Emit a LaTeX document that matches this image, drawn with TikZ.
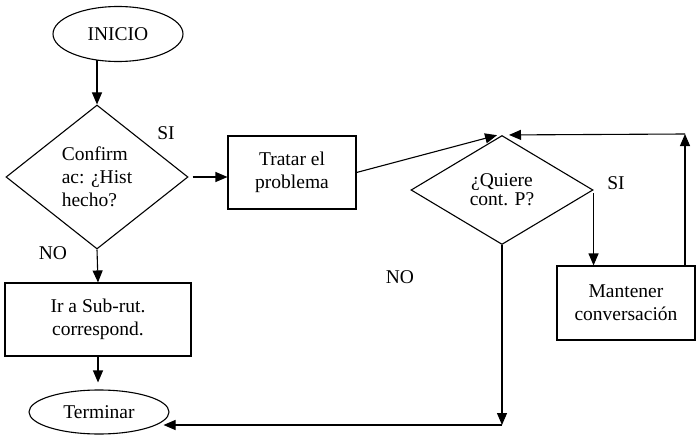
\documentclass[tikz,border=0pt]{standalone}
\usepackage{fontspec}
\setmainfont{Liberation Serif}
\usetikzlibrary{shapes.geometric,arrows.meta}
\begin{document}
\begin{tikzpicture}[x=1pt,y=-1pt,
  font=\fontsize{19.5}{23}\selectfont,
  line width=1.1pt,
  arr/.style={-{Triangle[length=12pt,width=10pt]}},
  term/.style={draw,ellipse,inner sep=0pt},
  dec/.style={draw,diamond,inner sep=0pt},
  proc/.style={draw,rectangle,inner sep=0pt,align=center},
  lbl/.style={inner sep=0pt}]
\useasboundingbox (0,0) rectangle (697,436);
\node[term,minimum width=130pt,minimum height=55pt] (inicio) at (118,34) {INICIO};
\node[dec,minimum width=182pt,minimum height=144pt,align=left] (d1) at (97,177) {Confirm\\ac: ¿Hist\\hecho?};
\node[proc,minimum width=128pt,minimum height=73pt] (tratar) at (292,172.5) {Tratar el\\problema};
\node[dec,minimum width=182pt,minimum height=109pt,align=center,font=\fontsize{19.5}{19}\selectfont] (d2) at (502,190) {¿Quiere\\cont. P?};
\node[proc,minimum width=138pt,minimum height=74pt] (mant) at (626,303) {Mantener\\conversación};
\node[proc,minimum width=186pt,minimum height=73pt] (ir) at (98,319.5) {Ir a Sub-rut.\\correspond.};
\node[term,minimum width=140pt,minimum height=44pt] (term) at (99,412) {Terminar};
\node[lbl] (si1) at (166,133) {SI};
\node[lbl] (no1) at (53,253) {NO};
\node[lbl] (si2) at (616,183) {SI};
\node[lbl] (no2) at (400,277) {NO};
\coordinate (c1) at (685,134);
\coordinate (c2) at (502,425);
\draw[arr] (inicio.230 -| d1.north) -- (d1.north);
\draw[arr,shorten <=4pt] (d1.east) -- (d1.east -| tratar.west);
\draw[arr] (d1.south) -- (ir.north);
\draw[arr,shorten >=7pt] (ir.south) -- (ir.south |- term.north);
\draw[arr,shorten >=1pt] (tratar.east) -- ([xshift=-4pt]d2.north);
\draw[arr] ([yshift=-3pt]d2.east) -- (d2.east |- mant.north);
\draw[arr] (mant.north east -| c1) -- (c1);
\draw[arr] (c1) -- ([xshift=7pt]d2.north);
\draw[arr] (d2.south) -- (c2);
\draw[arr,shorten >=-6pt] (c2) -- (c2 -| term.east);
\end{tikzpicture}
\end{document}
